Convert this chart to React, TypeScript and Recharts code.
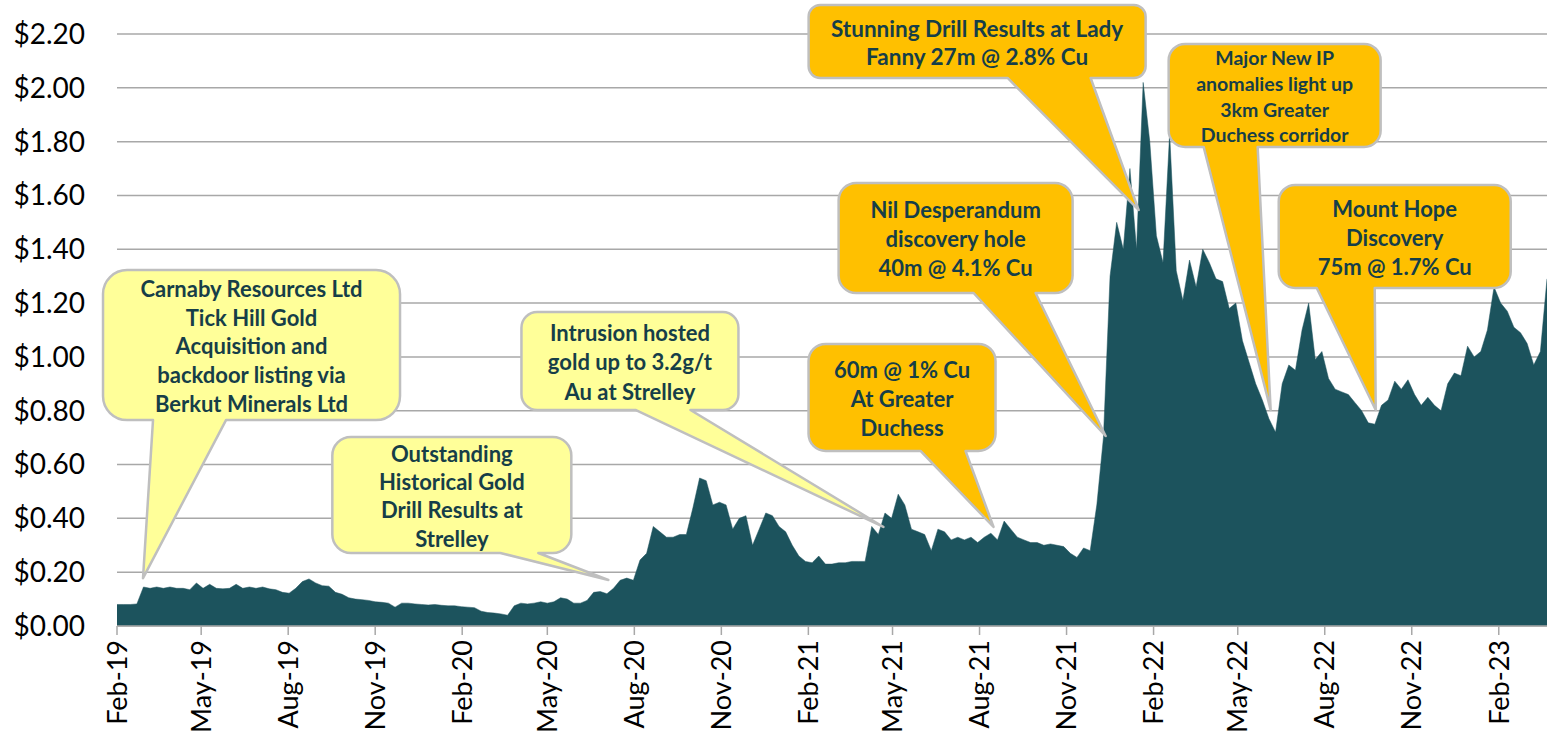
import { AreaChart, Area, XAxis, YAxis, CartesianGrid, ReferenceDot } from 'recharts';

// weekly closing prices, first point 1 Feb 2019
const weeklyFrom2019 = [
  0.08, 0.08, 0.08, 0.082, 0.145, 0.14, 0.145, 0.14, 0.145, 0.14, 0.14, 0.135, 0.16,
  0.14, 0.155, 0.14, 0.138, 0.14, 0.155, 0.14, 0.145, 0.14, 0.145, 0.138, 0.135, 0.125,
  0.122, 0.14, 0.165, 0.175, 0.16, 0.15, 0.148, 0.125, 0.118, 0.105, 0.1, 0.098, 0.095,
  0.09, 0.088, 0.085, 0.07, 0.085, 0.085, 0.082, 0.08, 0.078, 0.08, 0.077, 0.075, 0.075,
];
const weeklyFrom2020 = [
  0.072, 0.07, 0.068, 0.055, 0.05, 0.048, 0.045, 0.04, 0.075, 0.085, 0.082, 0.085, 0.09,
  0.085, 0.09, 0.105, 0.1, 0.085, 0.085, 0.095, 0.125, 0.128, 0.12, 0.14, 0.17, 0.178,
  0.17, 0.245, 0.27, 0.37, 0.35, 0.33, 0.33, 0.34, 0.34, 0.44, 0.55, 0.54, 0.45, 0.46,
  0.45, 0.36, 0.4, 0.41, 0.3, 0.36, 0.42, 0.41, 0.37, 0.35, 0.3, 0.26,
];
const weeklyFrom2021 = [
  0.24, 0.235, 0.26, 0.23, 0.23, 0.235, 0.235, 0.24, 0.24, 0.24, 0.37, 0.34, 0.42,
  0.4, 0.49, 0.45, 0.36, 0.35, 0.34, 0.28, 0.36, 0.35, 0.32, 0.33, 0.32, 0.33,
  0.31, 0.33, 0.345, 0.32, 0.39, 0.36, 0.33, 0.32, 0.31, 0.31, 0.3, 0.305, 0.3,
  0.295, 0.27, 0.255, 0.29, 0.28, 0.45, 0.7, 1.3, 1.5, 1.4, 1.7, 1.4, 2.02,
];
const weeklyFrom2022 = [
  1.8, 1.45, 1.35, 1.83, 1.32, 1.21, 1.36, 1.26, 1.4, 1.35, 1.29, 1.28, 1.18,
  1.2, 1.06, 0.98, 0.9, 0.84, 0.77, 0.72, 0.9, 0.97, 0.95, 1.1, 1.2, 0.99,
  1.02, 0.92, 0.88, 0.87, 0.86, 0.83, 0.8, 0.755, 0.75, 0.82, 0.84, 0.91, 0.88,
  0.915, 0.86, 0.82, 0.85, 0.82, 0.8, 0.9, 0.94, 0.93, 1.04, 1.0, 1.02, 1.1,
];
const weeklyFrom2023 = [1.26, 1.2, 1.17, 1.11, 1.09, 1.05, 0.97, 1.02, 1.29];

const yTicks = [0, 0.2, 0.4, 0.6, 0.8, 1.0, 1.2, 1.4, 1.6, 1.8, 2.0, 2.2];
const tickLabels = [
  'Feb-19', 'May-19', 'Aug-19', 'Nov-19', 'Feb-20', 'May-20', 'Aug-20', 'Nov-20', 'Feb-21',
  'May-21', 'Aug-21', 'Nov-21', 'Feb-22', 'May-22', 'Aug-22', 'Nov-22', 'Feb-23',
];

const MONTHS = ['Jan', 'Feb', 'Mar', 'Apr', 'May', 'Jun', 'Jul', 'Aug', 'Sep', 'Oct', 'Nov', 'Dec'];
const START = Date.UTC(2019, 1, 1);
const dayOf = (label: string) => {
  const [m, y] = label.split('-');
  return (Date.UTC(2000 + Number(y), MONTHS.indexOf(m), 1) - START) / 86400000;
};
const tickDays = tickLabels.map(dayOf);
const labelByDay: Record<number, string> = {};
tickLabels.forEach((l, i) => (labelByDay[tickDays[i]] = l));

const prices = [...weeklyFrom2019, ...weeklyFrom2020, ...weeklyFrom2021, ...weeklyFrom2022, ...weeklyFrom2023];
const data = prices.map((price, i) => ({ day: i * 7, price }));
const lastDay = (prices.length - 1) * 7;

const LIGHT = '#FFFF99';
const GOLD = '#FFC000';
const TEXT = '#163E48';

// callouts: anchored at a point on the chart (day, price); box and pointer base are px offsets from that point
const callouts = [
  { day: 27.5, price: 0.178, fill: LIGHT, box: [-40, -308, 297, 150], base: [10, 83], size: 22, lh: 28.7,
    lines: ['Carnaby Resources Ltd', 'Tick Hill Gold', 'Acquisition and', 'backdoor listing via', 'Berkut Minerals Ltd'] },
  { day: 519.5, price: 0.171, fill: LIGHT, box: [-276, -143, 239, 116], base: [-108, -70], size: 22, lh: 28.3,
    lines: ['Outstanding', 'Historical Gold', 'Drill Results at', 'Strelley'] },
  { day: 810.4, price: 0.368, fill: LIGHT, box: [-362, -215, 217, 98], base: [-248, -193], size: 22, lh: 29.5,
    lines: ['Intrusion hosted', 'gold up to 3.2g/t', 'Au at Strelley'] },
  { day: 926.8, price: 0.368, fill: GOLD, box: [-185, -183, 187, 107], base: [-73, -28], size: 22, lh: 29,
    lines: ['60m @ 1% Cu', 'At Greater', 'Duchess'] },
  { day: 1045.3, price: 0.706, fill: GOLD, box: [-267, -253, 234, 110], base: [-132, -70], size: 22, lh: 29,
    lines: ['Nil Desperandum', 'discovery hole', '40m @ 4.1% Cu'] },
  { day: 1080.2, price: 1.546, fill: GOLD, box: [-330, -205, 337, 73], base: [-131, -48], size: 22.5, lh: 28,
    lines: ['Stunning Drill Results at Lady', 'Fanny 27m @ 2.8% Cu'] },
  { day: 1219.8, price: 0.803, fill: GOLD, box: [-102, -366, 212, 103], base: [-67, -13], size: 19.5, lh: 25.7,
    lines: ['Major New IP', 'anomalies light up', '3km Greater', 'Duchess corridor'] },
  { day: 1330.9, price: 0.803, fill: GOLD, box: [-97, -225, 232, 103], base: [-59, -1], size: 22, lh: 29,
    lines: ['Mount Hope', 'Discovery', '75m @ 1.7% Cu'] },
];

type Callout = (typeof callouts)[number];

function Bubble({ cx, cy, c }: { cx: number; cy: number; c: Callout }) {
  const [dx, dy, w, h] = c.box;
  const L = cx + dx, T = cy + dy, R = L + w, B = T + h;
  const r = Math.min(w, h) * 0.16;
  const bl = cx + c.base[0], br = cx + c.base[1];
  const d = `M${L + r},${T} H${R - r} A${r},${r} 0 0 1 ${R},${T + r} V${B - r} A${r},${r} 0 0 1 ${R - r},${B}
    H${br} L${cx},${cy} L${bl},${B} H${L + r} A${r},${r} 0 0 1 ${L},${B - r} V${T + r} A${r},${r} 0 0 1 ${L + r},${T} Z`;
  const midX = L + w / 2;
  const firstY = T + h / 2 + 1.5 - ((c.lines.length - 1) * c.lh) / 2;
  return (
    <g>
      <path d={d} fill={c.fill} stroke="#BFBFBF" strokeWidth={2.5} strokeLinejoin="round" />
      {c.lines.map((line, i) => (
        <text key={i} x={midX} y={firstY + i * c.lh} dy="0.35em" textAnchor="middle"
          fontFamily="Lato, sans-serif" fontWeight={700} fontSize={c.size} fill={TEXT}>
          {line}
        </text>
      ))}
    </g>
  );
}

function MonthTick({ x, y, payload }: any) {
  return (
    <g transform={`translate(${x},${y})`}>
      <text transform="rotate(-90)" x={-3} y={0} dy="0.36em" textAnchor="end"
        fontFamily="Lato, sans-serif" fontSize={27} fill="#000">
        {labelByDay[payload.value]}
      </text>
    </g>
  );
}

export default function App() {
  return (
    <div style={{ position: 'absolute', left: 0, top: 0, fontFamily: 'Lato, sans-serif', background: '#fff' }}>
      <AreaChart width={1547} height={732} data={data} margin={{ top: 34, right: 0, bottom: 6, left: 0 }}>
        <CartesianGrid vertical={false} stroke="#A8A8A8" strokeWidth={1.5} />
        <XAxis
          type="number"
          dataKey="day"
          domain={[0, lastDay]}
          ticks={tickDays}
          interval={0}
          height={100}
          tickSize={9}
          tickLine={{ stroke: '#A8A8A8', strokeWidth: 1.5 }}
          axisLine={{ stroke: '#A8A8A8', strokeWidth: 1.5 }}
          tick={<MonthTick />}
        />
        <YAxis
          domain={[0, 2.2]}
          ticks={yTicks}
          interval={0}
          width={117}
          axisLine={false}
          tickLine={false}
          tickSize={6}
          tickMargin={26}
          tickFormatter={(v: number) => '$' + v.toFixed(2)}
          tick={{ fontSize: 28, fill: '#000', fontFamily: 'Lato, sans-serif' }}
        />
        <Area
          type="linear"
          dataKey="price"
          stroke="#1C535D"
          strokeWidth={0.5}
          fill="#1C535D"
          fillOpacity={1}
          isAnimationActive={false}
        />
        {callouts.map((c, i) => (
          <ReferenceDot
            key={i}
            x={c.day}
            y={c.price}
            ifOverflow="visible"
            shape={(p: any) => <Bubble cx={p.cx} cy={p.cy} c={c} />}
          />
        ))}
      </AreaChart>
    </div>
  );
}
